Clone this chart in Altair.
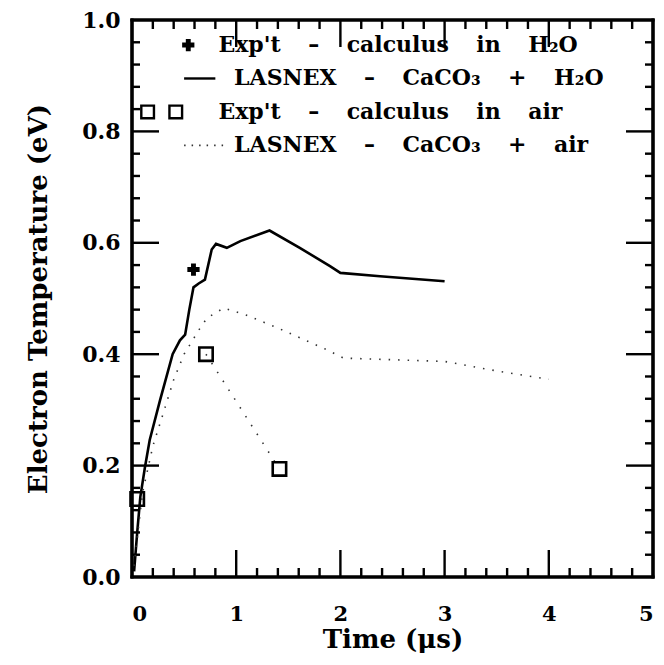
import altair as alt
import pandas as pd

# ---- data ----
h2o_model_t = [0.02, 0.05, 0.08, 0.125, 0.17, 0.27, 0.39, 0.46, 0.51, 0.55, 0.59, 0.64, 0.70, 0.765, 0.806, 0.91, 1.04, 1.32, 1.61, 1.90, 2.0, 2.38, 3.0]
h2o_model_v = [0.01, 0.08, 0.144, 0.198, 0.246, 0.318, 0.40, 0.425, 0.435, 0.48, 0.52, 0.527, 0.534, 0.588, 0.598, 0.591, 0.603, 0.622, 0.591, 0.558, 0.546, 0.54, 0.531]

air_model_t = [0.02, 0.1, 0.2, 0.30, 0.40, 0.50, 0.64, 0.72, 0.80, 0.88, 1.1, 1.4, 1.87, 2.03, 3.0, 3.5, 4.0]
air_model_v = [0.02, 0.15, 0.235, 0.294, 0.354, 0.40, 0.443, 0.465, 0.474, 0.483, 0.47, 0.447, 0.408, 0.393, 0.387, 0.37, 0.355]

h2o_exp_t = [0.59]
h2o_exp_v = [0.552]

air_exp_t = [0.05, 0.71, 1.415]
air_exp_v = [0.14, 0.40, 0.194]

air_exp_line_t = [0.71, 1.415]
air_exp_line_v = [0.40, 0.194]

x_major = [1, 2, 3, 4]
x_minor = [0.2, 0.4, 0.6, 0.8, 1.2, 1.4, 1.6, 1.8, 2.2, 2.4, 2.6, 2.8, 3.2, 3.4, 3.6, 3.8, 4.2, 4.4, 4.6, 4.8]
y_major = [0.2, 0.4, 0.6, 0.8]
y_minor = [0.04, 0.08, 0.12, 0.16, 0.24, 0.28, 0.32, 0.36, 0.44, 0.48, 0.52, 0.56, 0.64, 0.68, 0.72, 0.76, 0.84, 0.88, 0.92, 0.96]

SP = "\u2003\u2005"
legend_labels = ["Exp't" + SP + "–" + SP + "calculus" + SP + "in" + SP + "H\u2082O",
                 "LASNEX" + SP + "–" + SP + "CaCO\u2083" + SP + "+" + SP + "H\u2082O",
                 "Exp't" + SP + "–" + SP + "calculus" + SP + "in" + SP + "air",
                 "LASNEX" + SP + "–" + SP + "CaCO\u2083" + SP + "+" + SP + "air"]
legend_text_t = [0.83, 0.98, 0.83, 0.98]
legend_row_v = [0.955, 0.895, 0.835, 0.775]

W, H = 521, 557
FONT = "DejaVu Serif"
T_MAX, V_MAX = 5.0, 1.0
PX_T = T_MAX / W   # one pixel in time units
PX_V = V_MAX / H   # one pixel in temperature units

XT = "Time (μs)"
YT = "Electron Temperature (eV)"
xs = alt.Scale(domain=[0, 5], nice=False, zero=False)
ys = alt.Scale(domain=[0, 1], nice=False, zero=False)

# plain encodings (no axis object) for the helper layers
X = alt.X("t:Q", scale=xs, title=XT)
Y = alt.Y("v:Q", scale=ys, title=YT)
X2 = alt.X2("t2:Q", title=XT)
Y2 = alt.Y2("v2:Q", title=YT)

# main layer carries the axis definition
XA = alt.X("t:Q", scale=xs, title=XT, axis=alt.Axis(values=[0, 1, 2, 3, 4, 5], format="d"))
YA = alt.Y("v:Q", scale=ys, title=YT, axis=alt.Axis(values=[0, 0.2, 0.4, 0.6, 0.8, 1.0], format=".1f"))

df_h2o = pd.DataFrame({"t": h2o_model_t, "v": h2o_model_v})
df_air = pd.DataFrame({"t": air_model_t, "v": air_model_v})
df_h2o_exp = pd.DataFrame({"t": h2o_exp_t, "v": h2o_exp_v})
df_air_exp = pd.DataFrame({"t": air_exp_t, "v": air_exp_v})
df_air_exp_line = pd.DataFrame({"t": air_exp_line_t, "v": air_exp_line_v})

solid = alt.Chart(df_h2o).mark_line(color="black", strokeWidth=2.6).encode(x=XA, y=YA)
dotted = alt.Chart(df_air).mark_line(color="#333333", strokeWidth=1.6, strokeDash=[1.5, 8]).encode(x=X, y=Y)
dotted_exp = alt.Chart(df_air_exp_line).mark_line(color="#333333", strokeWidth=1.6, strokeDash=[1.5, 9]).encode(x=X, y=Y)

plus = alt.Chart(df_h2o_exp).mark_point(shape="cross", size=150, color="black", filled=True,
                                         opacity=1).encode(x=X, y=Y)
squares = alt.Chart(df_air_exp).mark_point(shape="square", size=180, strokeWidth=2.6, color="black",
                                            filled=False, opacity=1).encode(x=X, y=Y)

# ---- frame as four thin filled rectangles ----
fw_t, fw_v = 1.6 * PX_T, 1.6 * PX_V
frame_df = pd.DataFrame({
    "t":  [-fw_t, T_MAX - fw_t, -fw_t, -fw_t],
    "t2": [fw_t, T_MAX + fw_t, T_MAX + fw_t, T_MAX + fw_t],
    "v":  [-fw_v, -fw_v, -fw_v, V_MAX - fw_v],
    "v2": [V_MAX + fw_v, V_MAX + fw_v, fw_v, V_MAX + fw_v],
})
frame = alt.Chart(frame_df).mark_rect(color="black", opacity=1).encode(x=X, x2=X2, y=Y, y2=Y2)

# ---- inward ticks on all four sides, as thin filled rectangles ----
def xticks(vals, length_px, top):
    half = 1.2 * PX_T
    dv = length_px * PX_V
    v0 = V_MAX - dv if top else 0.0
    v1 = V_MAX if top else dv
    df = pd.DataFrame({"t": [a - half for a in vals], "t2": [a + half for a in vals],
                       "v": [v0] * len(vals), "v2": [v1] * len(vals)})
    return alt.Chart(df).mark_rect(color="black", opacity=1).encode(x=X, x2=X2, y=Y, y2=Y2)

def yticks(vals, length_px, right):
    half = 1.2 * PX_V
    dt = length_px * PX_T
    t0 = T_MAX - dt if right else 0.0
    t1 = T_MAX if right else dt
    df = pd.DataFrame({"v": [a - half for a in vals], "v2": [a + half for a in vals],
                       "t": [t0] * len(vals), "t2": [t1] * len(vals)})
    return alt.Chart(df).mark_rect(color="black", opacity=1).encode(x=X, x2=X2, y=Y, y2=Y2)

ticks = [xticks(x_major, 27, False), xticks(x_minor, 9, False),
         xticks(x_major, 27, True), xticks(x_minor, 9, True),
         yticks(y_major, 27, False), yticks(y_minor, 8, False),
         yticks(y_major, 27, True), yticks(y_minor, 8, True)]

# ---- in-plot key ----
df_leg = pd.DataFrame({"t": legend_text_t, "v": legend_row_v, "label": legend_labels})
leg_text = alt.Chart(df_leg).mark_text(align="left", baseline="middle", font=FONT, fontSize=22,
                                       fontWeight="bold", color="black").encode(x=X, y=Y, text="label:N")

leg_plus = alt.Chart(pd.DataFrame({"t": [0.54], "v": [legend_row_v[0]]})).mark_point(
    shape="cross", size=150, color="black", filled=True, opacity=1).encode(x=X, y=Y)
leg_solid = alt.Chart(pd.DataFrame({"t": [0.50, 0.80], "v": [legend_row_v[1]] * 2})).mark_line(
    color="black", strokeWidth=2.4).encode(x=X, y=Y)
leg_sq = alt.Chart(pd.DataFrame({"t": [0.15, 0.42], "v": [legend_row_v[2]] * 2})).mark_point(
    shape="square", size=160, strokeWidth=2.4, color="black", filled=False, opacity=1).encode(x=X, y=Y)
leg_dot = alt.Chart(pd.DataFrame({"t": [0.50, 0.90], "v": [legend_row_v[3]] * 2})).mark_line(
    color="#333333", strokeWidth=1.6, strokeDash=[1.5, 6]).encode(x=X, y=Y)

chart = alt.layer(
    solid, frame, *ticks, dotted, dotted_exp, squares, plus,
    leg_text, leg_plus, leg_solid, leg_sq, leg_dot
).properties(
    width=W, height=H,
    autosize=alt.AutoSizeParams(type="none"),
    padding={"left": 124, "top": 12, "right": 3, "bottom": 80},
    background="white",
).configure_view(
    stroke="black", strokeWidth=3
).configure_axis(
    ticks=False, domain=False, grid=False,
    labelFont=FONT, labelFontWeight="bold", labelColor="black",
    titleFont=FONT, titleFontWeight="bold", titleColor="black",
).configure_axisX(
    labelFontSize=21, labelPadding=26, titleFontSize=26, titlePadding=2,
).configure_axisY(
    labelFontSize=22, labelPadding=12, titleFontSize=26, titlePadding=30,
)

chart.save("out.html", embed_options={"renderer": "svg", "actions": False})
